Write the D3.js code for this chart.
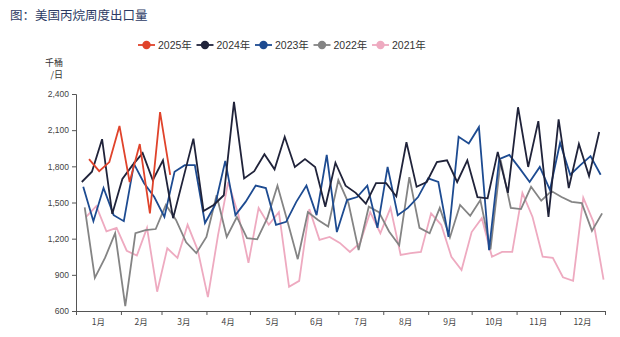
<!DOCTYPE html>
<html>
<head>
<meta charset="utf-8">
<script src="https://cdn.jsdelivr.net/npm/d3@7"></script>
<style>
  body { margin: 0; background: #fff; }
  svg { display: block; font-family: "Liberation Sans", Arial, "Noto Sans CJK SC", sans-serif; }
</style>
</head>
<body>
<div id="chart"></div>
<script>
// weekly propane exports, thousand barrels/day
const seriesNames = ["2025年", "2024年", "2023年", "2022年", "2021年"];
const seriesColors = ["#e0432b", "#20233a", "#1d4b91", "#848484", "#eeaac0"];
const firstWeeks = ["2025-01-10", "2024-01-05", "2023-01-06", "2022-01-07", "2021-01-08"];

const v2025 = [1860, 1760, 1835, 2135, 1670, 1985, 1410, 2250, 1730];
const v2024 = [1670, 1755, 2025, 1405, 1695, 1810, 1910, 1685, 1850, 1370, 1700, 2030, 1430,
  1480, 1560, 2335, 1700, 1760, 1900, 1775, 2045, 1795, 1860, 1795, 1465, 1830, 1640, 1580,
  1490, 1660, 1660, 1550, 2000, 1630, 1670, 1835, 1850, 1670, 1850, 1545, 1535, 1920, 1580,
  2290, 1795, 2175, 1380, 2190, 1620, 1985, 1720, 2085];
const v2023 = [1630, 1345, 1620, 1395, 1345, 1820, 1660, 1545, 1380, 1755, 1810, 1810, 1330,
  1480, 1845, 1395, 1505, 1640, 1620, 1315, 1340, 1505, 1640, 1395, 1895, 1255, 1520, 1545,
  1640, 1290, 1795, 1395, 1455, 1545, 1700, 1670, 1215, 2045, 1990, 2125, 1105, 1860, 1895,
  1785, 1670, 1795, 1605, 1995, 1730, 1810, 1885, 1730];
const v2022 = [1460, 875, 1040, 1245, 640, 1245, 1270, 1280, 1480, 1355, 1170, 1080, 1215,
  1560, 1215, 1380, 1205, 1195, 1370, 1640, 1340, 1030, 1420, 1355, 1300, 1685, 1495, 1105,
  1465, 1420, 1260, 1145, 1710, 1290, 1245, 1455, 1210, 1480, 1390, 1520, 1110, 1850, 1455,
  1445, 1630, 1515, 1595, 1545, 1505, 1495, 1265, 1410];
const v2021 = [1380, 1470, 1260, 1290, 1100, 1060, 1290, 760, 1120, 1040, 1315, 1105, 715,
  1230, 1670, 1400, 1000, 1455, 1315, 1420, 800, 850, 1445, 1190, 1215, 1165, 1090, 1165,
  1420, 1245, 1455, 1065, 1080, 1090, 1410, 1315, 1050, 940, 1255, 1370, 1050, 1090, 1090,
  1580, 1380, 1050, 1040, 880, 850, 1540, 1340, 860];
const seriesValues = [v2025, v2024, v2023, v2022, v2021];

const yTicks = [600, 900, 1200, 1500, 1800, 2100, 2400];
const monthLabels = ["1月", "2月", "3月", "4月", "5月", "6月", "7月", "8月", "9月", "10月", "11月", "12月"];

const W = 620, H = 337;
const plot = { left: 76, right: 605, top: 94, bottom: 311 };

const svg = d3.select("#chart").append("svg")
  .attr("width", W).attr("height", H);

// title
svg.append("text")
  .attr("x", 10).attr("y", 20)
  .attr("fill", "#2c3a63")
  .style("font-family", "'Noto Sans CJK SC', sans-serif")
  .style("font-size", "12.5px")
  .text("图：美国丙烷周度出口量");

// all years placed on one reference calendar year
const refStart = new Date(2001, 0, 1), refEnd = new Date(2002, 0, 1);
const x = d3.scaleTime().domain([refStart, refEnd]).range([plot.left, plot.right]);
const y = d3.scaleLinear().domain([600, 2400]).range([plot.bottom, plot.top]);

function toRef(date) {
  const doy = d3.timeDay.count(d3.timeYear(date), date);
  return d3.timeDay.offset(refStart, doy);
}

const parse = d3.timeParse("%Y-%m-%d");
const series = seriesNames.map((name, k) => {
  const start = parse(firstWeeks[k]);
  return {
    name, color: seriesColors[k],
    points: seriesValues[k].map((v, i) => ({ date: toRef(d3.timeDay.offset(start, 7 * i)), value: v }))
  };
});

// y axis
const yAxis = svg.append("g")
  .attr("transform", `translate(${plot.left},0)`)
  .call(d3.axisLeft(y).tickValues(yTicks).tickSize(4).tickPadding(3).tickFormat(d3.format(",")));
yAxis.select(".domain").attr("stroke", "#555");
yAxis.selectAll(".tick line").attr("stroke", "#555");
yAxis.selectAll("text").attr("fill", "#444").style("font-size", "8.5px");

// unit, two lines
svg.append("text").attr("x", 63).attr("y", 66).attr("text-anchor", "end")
  .attr("fill", "#333").style("font-size", "9px")
  .style("font-family", "'Noto Sans CJK SC', sans-serif").text("千桶");
svg.append("text").attr("x", 63).attr("y", 78).attr("text-anchor", "end")
  .attr("fill", "#333").style("font-size", "9px")
  .style("font-family", "'Noto Sans CJK SC', sans-serif").text("/日");

// x axis: month boundaries as ticks, labels at mid-month
const monthStarts = d3.timeMonth.range(refStart, refEnd).concat([refEnd]);
const xAxis = svg.append("g")
  .attr("transform", `translate(0,${plot.bottom})`)
  .call(d3.axisBottom(x).tickValues(monthStarts).tickSize(4).tickFormat(""));
xAxis.select(".domain").attr("stroke", "#555");
xAxis.selectAll(".tick line").attr("stroke", "#555");
xAxis.selectAll(".month-label")
  .data(monthLabels)
  .join("text")
  .attr("class", "month-label")
  .attr("x", (d, i) => (x(monthStarts[i]) + x(monthStarts[i + 1])) / 2)
  .attr("y", 14)
  .attr("text-anchor", "middle")
  .attr("fill", "#444")
  .style("font-size", "8.5px")
  .style("font-family", "'Noto Sans CJK SC', sans-serif")
  .text(d => d);

// lines, oldest drawn first
const line = d3.line().x(d => x(d.date)).y(d => y(d.value));
svg.append("g").selectAll("path")
  .data(series.slice().reverse())
  .join("path")
  .attr("d", d => line(d.points))
  .attr("fill", "none")
  .attr("stroke", d => d.color)
  .attr("stroke-width", 1.8)
  .attr("stroke-linejoin", "miter");

// legend
const legend = svg.append("g").attr("transform", "translate(138,45)");
const item = legend.selectAll("g")
  .data(series)
  .join("g")
  .attr("transform", (d, i) => `translate(${i * 58.5},0)`);
item.append("line")
  .attr("x1", 0).attr("x2", 17).attr("y1", 0).attr("y2", 0)
  .attr("stroke", d => d.color).attr("stroke-width", 1.8);
item.append("circle")
  .attr("cx", 8.5).attr("cy", 0).attr("r", 4.2)
  .attr("fill", d => d.color);
item.append("text")
  .attr("x", 20).attr("y", 4)
  .attr("fill", "#333")
  .style("font-size", "10.5px")
  .style("font-family", "'Liberation Sans', 'Noto Sans CJK SC', sans-serif")
  .text(d => d.name);
</script>
</body>
</html>
